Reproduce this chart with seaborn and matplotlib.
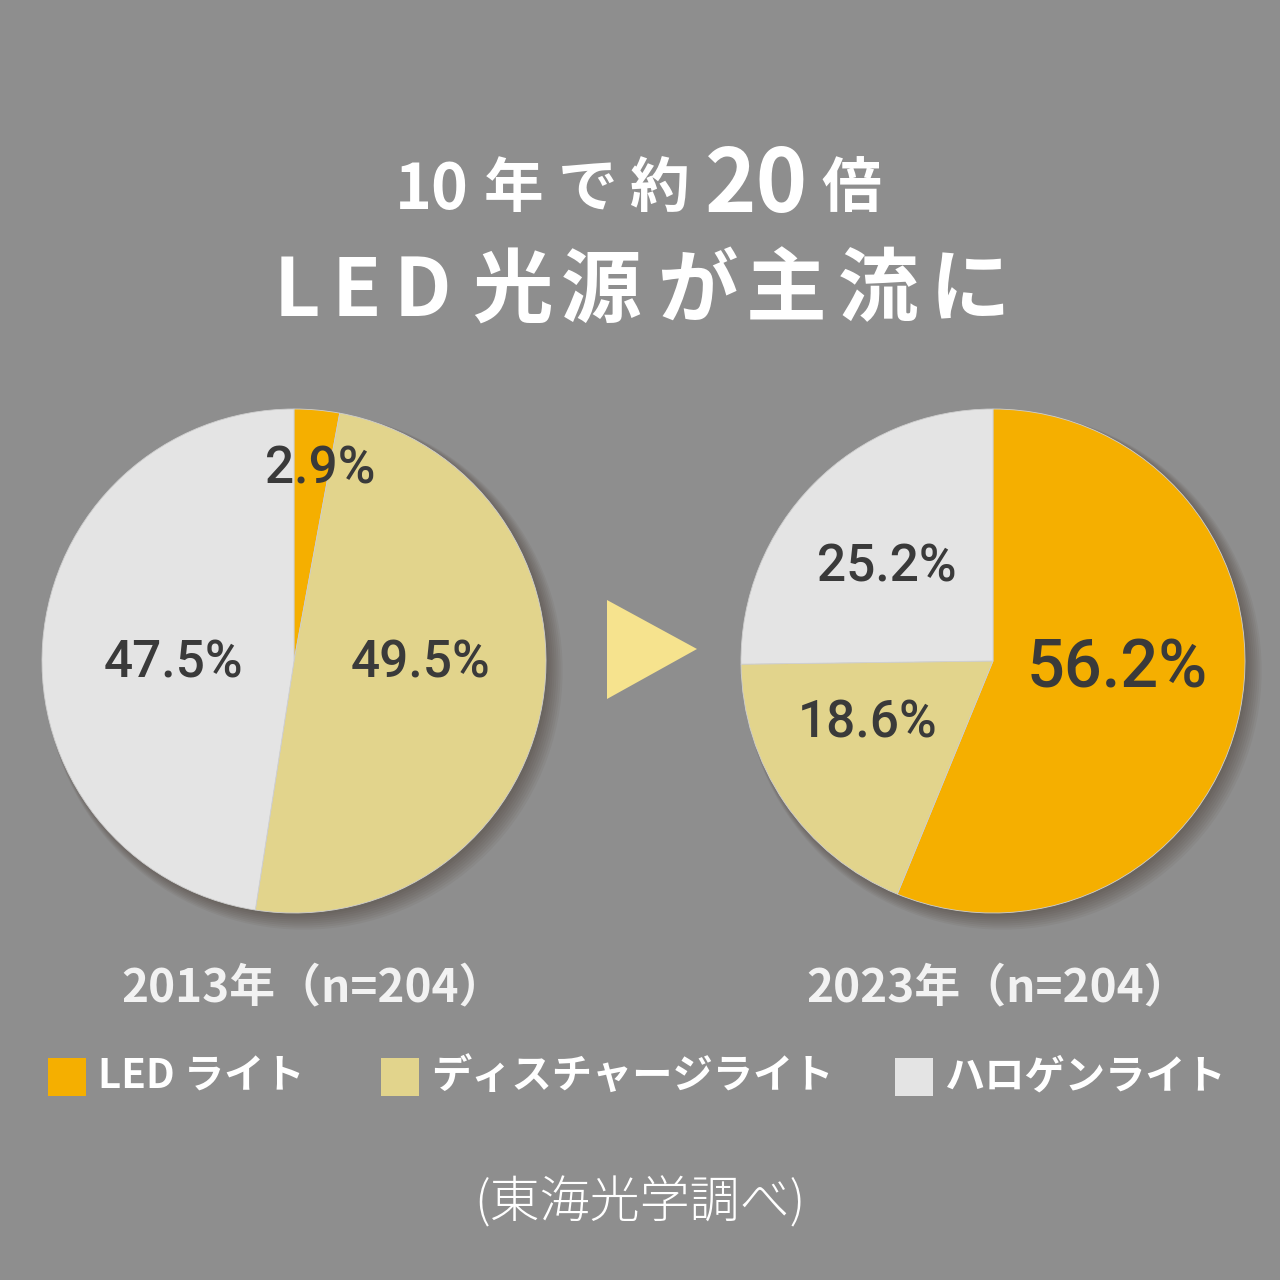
import matplotlib
matplotlib.use("Agg")
import matplotlib.pyplot as plt
from matplotlib.patches import Circle, Rectangle, Polygon
import seaborn as sns

sns.set_theme(style="white")
plt.rcParams['font.family'] = ['Noto Sans CJK JP', 'DejaVu Sans']

# ---- data ----
categories = ["LED ライト", "ディスチャージライト", "ハロゲンライト"]
values_2013 = [2.9, 49.5, 47.5]
values_2023 = [56.2, 18.6, 25.2]
year_labels = ["2013年（n=204）", "2023年（n=204）"]
title_line1 = ["10", "年", "で", "約", "20", "倍"]
title_line2 = ["L", "E", "D", "光", "源", "が", "主", "流", "に"]
source_note = "(東海光学調べ)"

colors = ["#F5AF00", "#E2D48C", "#E4E4E4"]
bg = "#8E8E8E"
label_color = "#3A3A3A"

W = H = 1280
fig = plt.figure(figsize=(12.8, 12.8), dpi=100, facecolor=bg)


def fx(px):
    return px / W


def fy(py):
    return 1 - py / H


# ---- title (letter-spaced, placed glyph by glyph) ----
line1_x = [432, 514, 588, 659, 757, 851]
line1_sz = [45, 43, 43, 43, 63, 43]
line1_y = [190, 190, 190, 190, 187, 190]
for s, x, sz, y in zip(title_line1, line1_x, line1_sz, line1_y):
    fig.text(fx(x), fy(y), s, ha="center", va="center", color="white",
             fontsize=sz, fontweight="bold")

line2_x = [297, 356, 422, 512, 601, 697, 786, 878, 970]
for s, x in zip(title_line2, line2_x):
    fig.text(fx(x), fy(292), s, ha="center", va="center", color="white",
             fontsize=58, fontweight="bold")

# ---- pies ----
R = 252
half = 300
lim = half / R


def draw_pie(cx, cy, vals, label_specs):
    ax = fig.add_axes([fx(cx - half), fy(cy + half), 2 * half / W, 2 * half / H])
    ax.set_facecolor("none")
    # soft shadow
    for k in range(8):
        ax.add_patch(Circle((0.010 + 0.004 * k, -0.010 - 0.004 * k), 1.0 + 0.004 * k,
                            color="#3a2a20", alpha=0.06, lw=0, zorder=0))
    wedges, _ = ax.pie(vals, colors=colors, startangle=90, counterclock=False,
                       radius=1.0, wedgeprops=dict(linewidth=0.6, edgecolor="#cfcfcf"))
    for w in wedges:
        w.set_zorder(2)
    ax.set_xlim(-lim, lim)
    ax.set_ylim(-lim, lim)
    ax.set_aspect("equal")
    ax.axis("off")
    for (val, px, py, fs) in label_specs:
        fig.text(fx(px), fy(py), f"{val}%", ha="center", va="center",
                 color=label_color, fontsize=fs, fontweight="medium",
                 family=["Roboto", "DejaVu Sans"])


draw_pie(294, 661, values_2013, [
    (values_2013[0], 320, 470, 37),
    (values_2013[1], 420, 664, 37),
    (values_2013[2], 173, 664, 37),
])
draw_pie(993, 661, values_2023, [
    (values_2023[0], 1117, 670, 48),
    (values_2023[1], 868, 724, 37),
    (values_2023[2], 887, 568, 37),
])

# ---- arrow triangle ----
fig.patches.append(Polygon([(fx(607), fy(600)), (fx(607), fy(699)), (fx(697), fy(649))],
                           closed=True, transform=fig.transFigure,
                           facecolor="#F6E38E", edgecolor="none"))

# ---- year labels ----
fig.text(fx(313), fy(988), year_labels[0], ha="center", va="center",
         color="#F2F2F2", fontsize=33, fontweight="bold")
fig.text(fx(998), fy(988), year_labels[1], ha="center", va="center",
         color="#F2F2F2", fontsize=33, fontweight="bold")

# ---- legend ----
leg_x = [48, 381, 895]
for x0, c, lab in zip(leg_x, colors, categories):
    fig.patches.append(Rectangle((fx(x0), fy(1096)), 38 / W, 38 / H,
                                 transform=fig.transFigure, facecolor=c, edgecolor="none"))
    fig.text(fx(x0 + 50), fy(1077), lab, ha="left", va="center", color="white",
             fontsize=29, fontweight="bold")

# ---- source ----
fig.text(fx(640), fy(1204), source_note, ha="center", va="center", color="white",
         fontsize=36, fontweight="light")

fig.savefig("out.png", dpi=100, facecolor=bg)
